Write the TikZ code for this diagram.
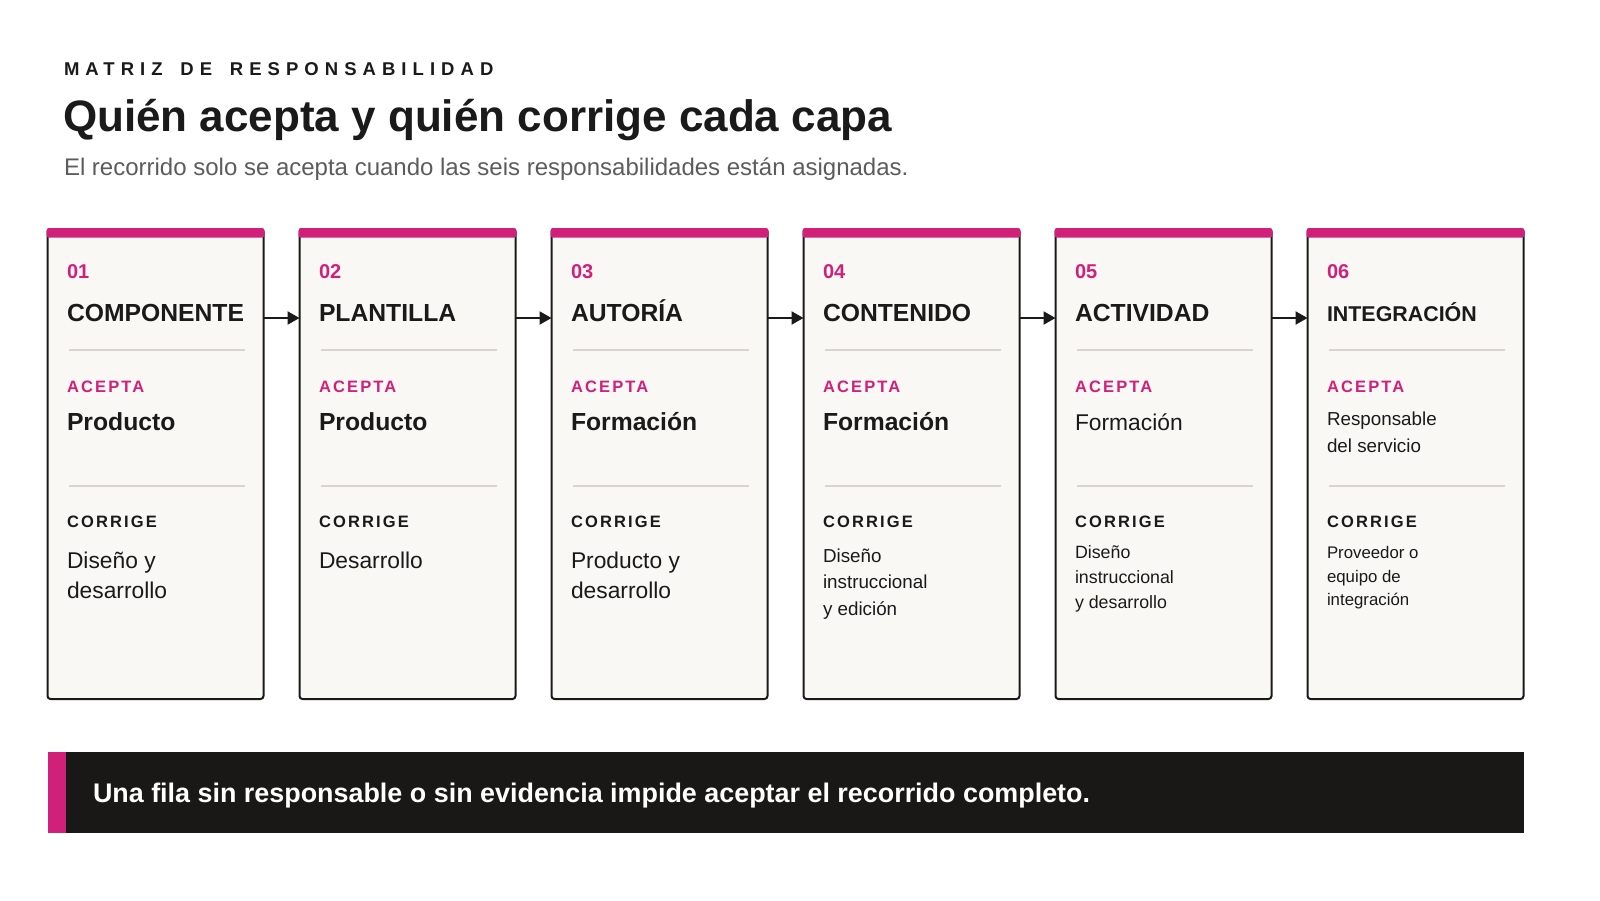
\documentclass[tikz,border=0pt]{standalone}
\usepackage{fontspec}
\setmainfont{Liberation Sans}
\newfontfamily\trkhead[LetterSpace=32.7]{Liberation Sans}
\newfontfamily\trklab[LetterSpace=13]{Liberation Sans}
\usetikzlibrary{arrows.meta}
\definecolor{mag}{HTML}{D0207A}
\definecolor{ink}{HTML}{1A1A1A}
\definecolor{cardbg}{HTML}{F9F8F5}
\definecolor{sepc}{HTML}{D9D4CF}
\definecolor{barbg}{HTML}{1A1816}
\definecolor{subg}{HTML}{5C5C5C}
\newcommand\fsz[2]{\fontsize{#1}{#2}\selectfont}
\newcommand\mlines[1]{\vtop{\halign{##\hfil\cr#1\crcr}}}
\tikzset{
  txt/.style={anchor=base west, inner sep=0pt, outer sep=0pt, text=ink},
  card/.style={draw=ink, line width=2pt, fill=cardbg, rounded corners=3pt,
    minimum width=216pt, minimum height=470pt, anchor=north west, inner sep=0pt, outer sep=0pt},
  sepline/.style={draw=sepc, line width=1.6pt},
  arr/.style={draw=ink, line width=2.2pt, -{Triangle[length=12pt,width=13pt]}},
  numtxt/.style={txt, font=\bfseries\fsz{20}{24}, text=mag},
  labacc/.style={txt, font=\trklab\bfseries\fsz{16.5}{20}, text=mag},
  labcor/.style={txt, font=\trklab\bfseries\fsz{16.5}{20}, text=ink},
}
% #1 idx, #2 left x, #3 number, #4 title, #5 acceptor baseline, #6 acceptor, #7 corrige baseline, #8 corrige
\newcommand\mkcard[8]{%
  \node[card] (c#1) at (#2,229) {};
  \fill[mag, rounded corners=2.5pt] (#2-1,228) rectangle (#2+217,237.5);
  \node[numtxt] (n#1) at (#2+19.5,278) {#3};
  \node[txt] (t#1) at (#2+19.5,321.7) {#4};
  \draw[sepline] (#2+21,350) -- (#2+197,350);
  \node[labacc] (la#1) at (#2+19.5,392.3) {ACEPTA};
  \node[txt] (a#1) at (#2+19.5,#5) {#6};
  \draw[sepline] (#2+21,486) -- (#2+197,486);
  \node[labcor] (lc#1) at (#2+19.5,527.7) {CORRIGE};
  \node[txt] (r#1) at (#2+19.5,#7) {#8};
}
\begin{document}
\begin{tikzpicture}[x=1pt, y=-1pt]
\useasboundingbox (0,0) rectangle (1600,900);
\fill[white] (0,0) rectangle (1600,900);

\node[txt, font=\trkhead\bfseries\fsz{18.5}{22}] (kicker) at (64,75) {MATRIZ\kern6.5pt{} DE\kern6.5pt{} RESPONSABILIDAD};
\node[txt, font=\bfseries\fsz{44}{52}] (title) at (63,131.7) {Quién acepta y quién corrige cada capa};
\node[txt, font=\fsz{24}{28}, text=subg] (sub) at (64,175) {El recorrido solo se acepta cuando las seis responsabilidades están asignadas.};

\mkcard{1}{47.5}{01}{\bfseries\fsz{24.7}{28}COMPONENTE}{430}{\bfseries\fsz{24.7}{28}Producto}{568.3}{\fsz{22.8}{30}\mlines{Diseño y\cr desarrollo}}
\mkcard{2}{299.5}{02}{\bfseries\fsz{24.7}{28}PLANTILLA}{430}{\bfseries\fsz{24.7}{28}Producto}{568.3}{\fsz{22.8}{30}Desarrollo}
\mkcard{3}{551.5}{03}{\bfseries\fsz{24.7}{28}AUTORÍA}{430}{\bfseries\fsz{24.7}{28}Formación}{568.3}{\fsz{22.8}{30}\mlines{Producto y\cr desarrollo}}
\mkcard{4}{803.5}{04}{\bfseries\fsz{24.7}{28}CONTENIDO}{430}{\bfseries\fsz{24.7}{28}Formación}{562.3}{\fsz{18.8}{26.4}\mlines{Diseño\cr instruccional\cr y edición}}
\mkcard{5}{1055.5}{05}{\bfseries\fsz{24.7}{28}ACTIVIDAD}{430.7}{\fsz{22.8}{28}Formación}{558.3}{\fsz{17.8}{25}\mlines{Diseño\cr instruccional\cr y desarrollo}}
\mkcard{6}{1307.5}{06}{\bfseries\fsz{21.4}{26}INTEGRACIÓN}{425.7}{\fsz{18.8}{26.6}\mlines{Responsable\cr del servicio}}{558.3}{\fsz{16.8}{23.8}\mlines{Proveedor o\cr equipo de\cr integración}}

\draw[arr] ([yshift=146pt]c1.east) -- ([yshift=146pt]c2.west);
\draw[arr] ([yshift=146pt]c2.east) -- ([yshift=146pt]c3.west);
\draw[arr] ([yshift=146pt]c3.east) -- ([yshift=146pt]c4.west);
\draw[arr] ([yshift=146pt]c4.east) -- ([yshift=146pt]c5.west);
\draw[arr] ([yshift=146pt]c5.east) -- ([yshift=146pt]c6.west);

\node[fill=barbg, minimum width=1476pt, minimum height=81.6pt, anchor=north west, inner sep=0pt, outer sep=0pt] (bar) at (47.5,751.7) {};
\fill[mag] (bar.north west) rectangle ([xshift=18.5pt]bar.south west);
\node[txt, font=\bfseries\fsz{26.9}{30}, text=white] (bartext) at (93,802.5) {Una fila sin responsable o sin evidencia impide aceptar el recorrido completo.};
\end{tikzpicture}
\end{document}
